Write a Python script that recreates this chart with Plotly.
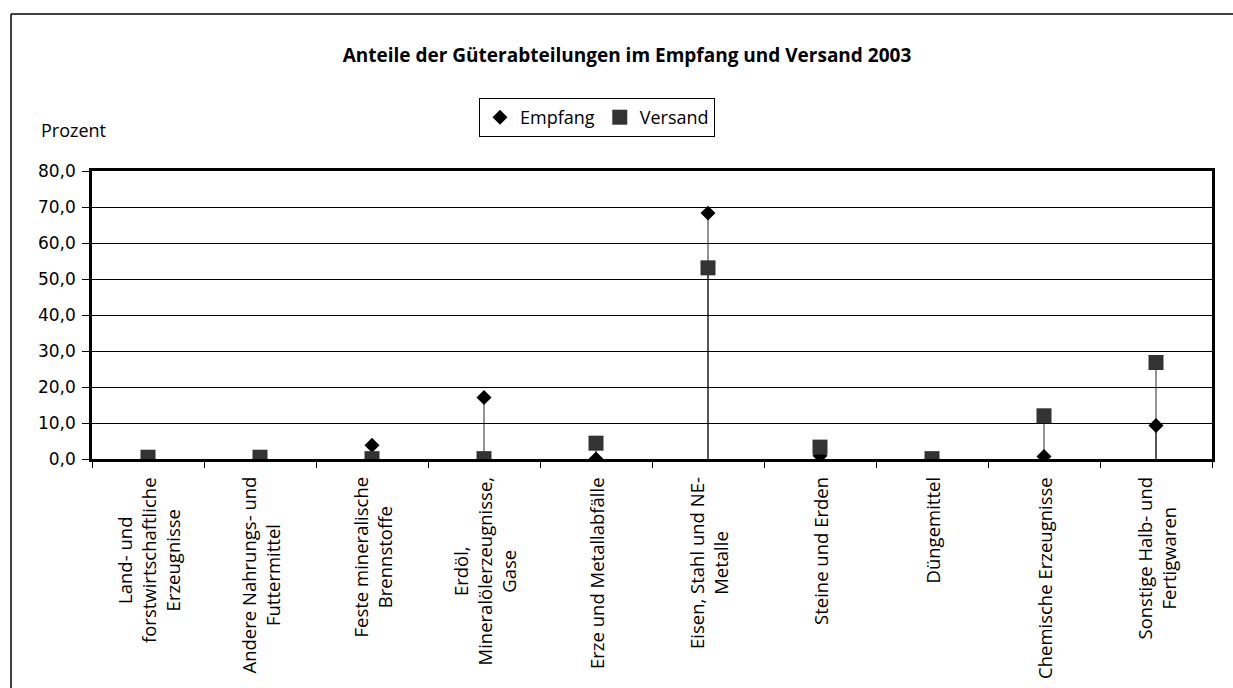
import plotly.graph_objects as go

# Güterabteilungen (category labels, line breaks as printed on the axis)
categories = [
    "Land- und<br>forstwirtschaftliche<br>Erzeugnisse",
    "Andere Nahrungs- und<br>Futtermittel",
    "Feste mineralische<br>Brennstoffe",
    "Erdöl,<br>Mineralölerzeugnisse,<br>Gase",
    "Erze und Metallabfälle",
    "Eisen, Stahl und NE-<br>Metalle",
    "Steine und Erden",
    "Düngemittel",
    "Chemische Erzeugnisse",
    "Sonstige Halb- und<br>Fertigwaren",
]
cat_keys = [f"c{i}" for i in range(len(categories))]

# shares in percent, 2003
empfang = [0.2, 0.2, 3.8, 17.1, 0.0, 68.3, 0.9, 0.0, 0.7, 9.3]
versand = [0.5, 0.5, 0.1, 0.1, 4.4, 53.1, 3.3, 0.1, 12.0, 26.8]

W, H = 1233, 688
L, R, T, B = 92, 21, 171, 229
pw, ph = W - L - R, H - T - B


def px_x(p):
    return (p - L) / pw


def px_y(p):
    return (H - B - p) / ph


fig = go.Figure()

# drop lines from every point down to the category axis
for series in (empfang, versand):
    xs, ys = [], []
    for k, v in zip(cat_keys, series):
        xs += [k, k, None]
        ys += [0, v, None]
    fig.add_trace(go.Scatter(
        x=xs, y=ys, mode="lines", showlegend=False, hoverinfo="skip",
        line=dict(color="rgba(0,0,0,0.6)", width=1.4),
    ))

fig.add_trace(go.Scatter(
    x=cat_keys, y=empfang, mode="markers", name="Empfang",
    marker=dict(symbol="diamond", size=11.5, color="#000000", line=dict(width=0)),
))
fig.add_trace(go.Scatter(
    x=cat_keys, y=versand, mode="markers", name="Versand",
    marker=dict(symbol="square", size=15, color="#333333", line=dict(width=0)),
))

annotations = []
# rotated, centred category labels below the axis
for k, lab in zip(cat_keys, categories):
    annotations.append(dict(
        x=k, xref="x", y=px_y(475), yref="paper",
        text=lab, textangle=-90, showarrow=False,
        xanchor="center", yanchor="top", align="center",
        font=dict(family="Open Sans", size=18.5, color="#000000"),
    ))
annotations.append(dict(
    x=px_x(39), xref="paper", y=px_y(130), yref="paper",
    text="Prozent", showarrow=False, xanchor="left", yanchor="middle",
    font=dict(family="Open Sans", size=18, color="#000000"),
))

shapes = [
    # outer chart frame
    dict(type="line", xref="paper", yref="paper",
         x0=px_x(11), x1=px_x(W + 20), y0=px_y(14), y1=px_y(14),
         line=dict(color="#000000", width=1.5)),
    dict(type="line", xref="paper", yref="paper",
         x0=px_x(11), x1=px_x(11), y0=px_y(14), y1=px_y(H + 20),
         line=dict(color="#000000", width=1.5)),
]

fig.update_layout(
    width=W, height=H,
    margin=dict(l=L, r=R, t=T, b=B, pad=0),
    paper_bgcolor="#ffffff", plot_bgcolor="#ffffff",
    separators=",.",
    title=dict(
        text="<b>Anteile der Güterabteilungen im Empfang und Versand 2003</b>",
        x=627 / W, xanchor="center", y=1 - 55 / H, yanchor="middle",
        font=dict(family="Open Sans", size=19, color="#000000"),
    ),
    legend=dict(
        orientation="h", x=px_x(597), xanchor="center", y=px_y(98), yanchor="top",
        bordercolor="#000000", borderwidth=1, bgcolor="#ffffff",
        font=dict(family="Open Sans", size=18, color="#000000"),
        itemwidth=30, tracegroupgap=0,
    ),
    xaxis=dict(
        type="category", categoryorder="array", categoryarray=cat_keys,
        range=[-0.5, len(cat_keys) - 0.5],
        showgrid=False, zeroline=False, showticklabels=False,
        ticks="outside", tickson="boundaries", ticklen=6, tickwidth=1, tickcolor="#000000",
        showline=True, linecolor="#000000", linewidth=2.5, mirror=True,
    ),
    yaxis=dict(
        range=[0, 80], dtick=10, tickformat=".1f",
        showgrid=True, gridcolor="#000000", gridwidth=1, zeroline=False,
        ticks="outside", ticklen=7, tickwidth=1, tickcolor="#000000",
        ticklabelstandoff=3,
        showline=True, linecolor="#000000", linewidth=2.5, mirror=True,
        tickfont=dict(family="DejaVu Sans", size=17, color="#000000"),
    ),
    annotations=annotations,
    shapes=shapes,
    hovermode=False,
)

fig.write_html("out.html")
